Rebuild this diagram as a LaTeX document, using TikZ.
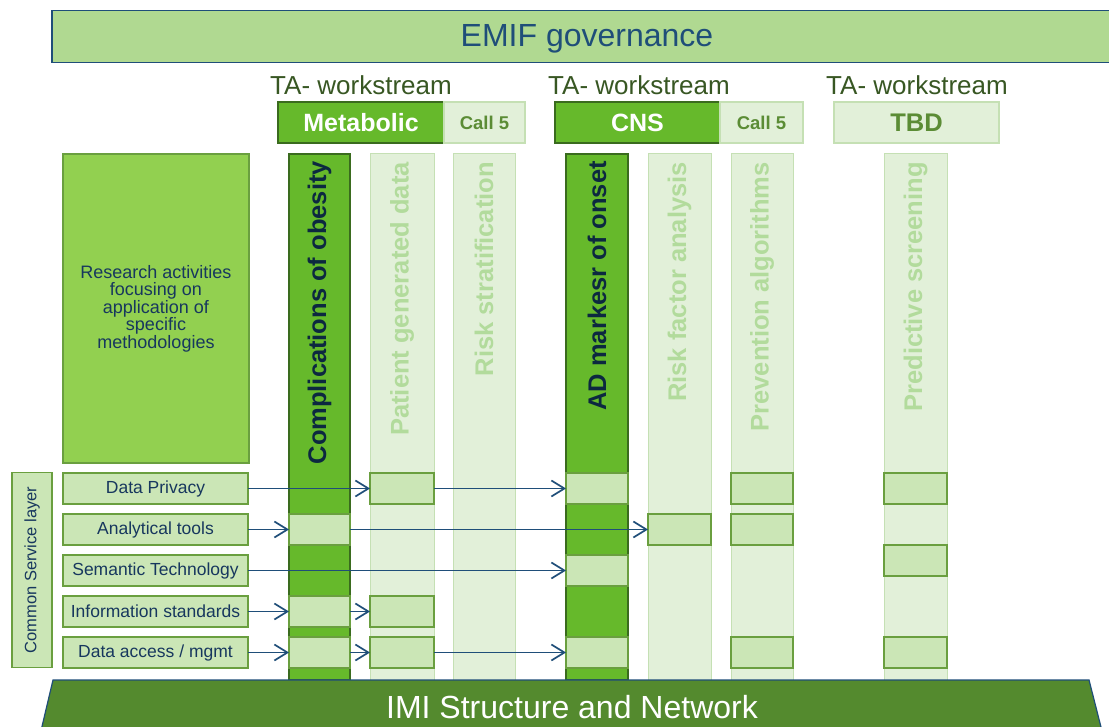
\documentclass[tikz,border=0pt]{standalone}
\usepackage{fontspec}
\setmainfont{Liberation Sans}
\usetikzlibrary{arrows.meta}
\definecolor{emifFill}{HTML}{B0D991}
\definecolor{navy}{HTML}{1F4E79}
\definecolor{taText}{HTML}{385723}
\definecolor{brightGreen}{HTML}{66B92B}
\definecolor{darkBorder}{HTML}{3A6B1E}
\definecolor{paleFill}{HTML}{E2F0D9}
\definecolor{paleBorder}{HTML}{C5E0B4}
\definecolor{callText}{HTML}{5B8C35}
\definecolor{researchFill}{HTML}{92D050}
\definecolor{midBorder}{HTML}{6A9F3F}
\definecolor{cellFill}{HTML}{CBE6B6}
\definecolor{colText}{HTML}{0C2840}
\definecolor{paleText}{HTML}{B2DB9C}
\definecolor{imiFill}{HTML}{548A2E}
\definecolor{rowText}{HTML}{17375E}
\begin{document}
\begin{tikzpicture}[x=1pt,y=-1pt,
  base/.style={rectangle, inner sep=0pt, outer sep=0pt, anchor=north west},
  emifbox/.style={base, fill=emifFill, draw=navy, line width=1.2pt},
  tahead/.style={inner sep=0pt, text=taText, font=\fontsize{26}{28}\selectfont},
  maintab/.style={base, fill=brightGreen, draw=darkBorder, line width=1.2pt, text=white, font=\fontsize{25}{27}\selectfont\bfseries},
  paletab/.style={base, fill=paleFill, draw=paleBorder, line width=1.2pt, text=callText, font=\fontsize{18.5}{20}\selectfont\bfseries},
  researchbox/.style={base, fill=researchFill, draw=midBorder, line width=1.2pt, text=rowText, align=center, font=\fontsize{18}{17.5}\selectfont},
  darkcol/.style={base, fill=brightGreen, draw=darkBorder, line width=1.2pt},
  palecol/.style={base, fill=paleFill, draw=paleBorder, line width=1pt},
  vtext/.style={inner sep=0pt, rotate=90, anchor=east, font=\fontsize{25.5}{27}\selectfont\bfseries},
  rowbox/.style={base, fill=cellFill, draw=midBorder, line width=1.2pt, text=rowText, font=\fontsize{17.5}{19}\selectfont},
  cellbox/.style={base, fill=cellFill, draw=midBorder, line width=1.2pt},
  arr/.style={draw=navy, line width=1.7pt, -{Straight Barb[length=13pt,width=16pt]}}
]
\useasboundingbox (0,0) rectangle (1109,727);
\fill[white] (0,0) rectangle (1109,727);

% governance
\node[emifbox, minimum width=1070pt, minimum height=52pt] (emif) at (52,10.5) {};
\node[text=navy, font=\fontsize{32}{36}\selectfont, inner sep=0pt] (emiftxt) at (587,38.5) {EMIF governance};

% workstream headers
\node[tahead] (ta1) at (361,85) {TA- workstream};
\node[tahead] (ta2) at (639,85) {TA- workstream};
\node[tahead] (ta3) at (917,85) {TA- workstream};

\node[maintab, minimum width=166pt, minimum height=41pt] (meta) at (278,102) {Metabolic};
\node[paletab, minimum width=81pt, minimum height=41pt] (call1) at (444,102) {Call 5};
\node[maintab, minimum width=165pt, minimum height=41pt] (cns) at (555,102) {CNS};
\node[paletab, minimum width=83pt, minimum height=41pt] (call2) at (720,102) {Call 5};
\node[paletab, minimum width=165pt, minimum height=41pt, font=\fontsize{25.5}{27}\selectfont\bfseries] (tbd) at (834,102) {TBD};

% research box
\node[researchbox, minimum width=186pt, minimum height=309pt] (research) at (63,154)
  {Research activities\\focusing on\\application of\\specific\\methodologies};

% columns
\node[darkcol, minimum width=61pt, minimum height=526pt] (c1) at (289,154) {};
\node[palecol, minimum width=64pt, minimum height=526pt] (c2) at (370,154) {};
\node[palecol, minimum width=62pt, minimum height=526pt] (c3) at (453,154) {};
\node[darkcol, minimum width=62pt, minimum height=526pt] (c4) at (566,154) {};
\node[palecol, minimum width=63pt, minimum height=526pt] (c5) at (648,154) {};
\node[palecol, minimum width=62pt, minimum height=526pt] (c6) at (731,154) {};
\node[palecol, minimum width=63pt, minimum height=526pt] (c7) at (884,154) {};

\node[vtext, text=colText] (t1) at (319.5,161) {Complications of obesity};
\node[vtext, text=paleText] (t2) at (402,162) {Patient generated data};
\node[vtext, text=paleText] (t3) at (484,162) {Risk stratification};
\node[vtext, text=colText] (t4) at (597,161) {AD markesr of onset};
\node[vtext, text=paleText] (t5) at (679.5,162) {Risk factor analysis};
\node[vtext, text=paleText] (t6) at (762,162) {Prevention algorithms};
\node[vtext, text=paleText] (t7) at (915.5,162) {Predictive screening};

% common service layer
\node[rowbox, minimum width=40pt, minimum height=195pt] (csl) at (12,472.5) {};
\node[inner sep=0pt, rotate=90, text=rowText, font=\fontsize{16.5}{18}\selectfont] (csltxt) at (32,570) {Common Service layer};

\node[rowbox, minimum width=185pt, minimum height=31pt] (r1) at (63,473) {Data Privacy};
\node[rowbox, minimum width=185pt, minimum height=31pt] (r2) at (63,514) {Analytical tools};
\node[rowbox, minimum width=185pt, minimum height=31pt] (r3) at (63,555) {Semantic Technology};
\node[rowbox, minimum width=185pt, minimum height=31pt] (r4) at (63,596) {Information standards};
\node[rowbox, minimum width=185pt, minimum height=31pt] (r5) at (63,637) {Data access / mgmt};

% cells
\node[cellbox, minimum width=64pt, minimum height=31pt] (c2r1) at (370,473) {};
\node[cellbox, minimum width=62pt, minimum height=31pt] (c4r1) at (566,473) {};
\node[cellbox, minimum width=62pt, minimum height=31pt] (c6r1) at (731,473) {};
\node[cellbox, minimum width=63pt, minimum height=31pt] (c7r1) at (884,473) {};

\node[cellbox, minimum width=61pt, minimum height=31pt] (c1r2) at (289,514) {};
\node[cellbox, minimum width=63pt, minimum height=31pt] (c5r2) at (648,514) {};
\node[cellbox, minimum width=62pt, minimum height=31pt] (c6r2) at (731,514) {};
\node[cellbox, minimum width=63pt, minimum height=31pt] (c7x) at (884,545) {};

\node[cellbox, minimum width=62pt, minimum height=31pt] (c4r3) at (566,555) {};

\node[cellbox, minimum width=61pt, minimum height=31pt] (c1r4) at (289,596) {};
\node[cellbox, minimum width=64pt, minimum height=31pt] (c2r4) at (370,596) {};

\node[cellbox, minimum width=61pt, minimum height=31pt] (c1r5) at (289,637) {};
\node[cellbox, minimum width=64pt, minimum height=31pt] (c2r5) at (370,637) {};
\node[cellbox, minimum width=62pt, minimum height=31pt] (c4r5) at (566,637) {};
\node[cellbox, minimum width=62pt, minimum height=31pt] (c6r5) at (731,637) {};
\node[cellbox, minimum width=63pt, minimum height=31pt] (c7r5) at (884,637) {};

% connectors
\draw[arr] (r1.east) -- (c2r1.west);
\draw[arr] (c2r1.east) -- (c4r1.west);
\draw[arr] (r2.east) -- (c1r2.west);
\draw[arr] (c1r2.east) -- (c5r2.west);
\draw[arr] (r3.east) -- (c4r3.west);
\draw[arr] (r4.east) -- (c1r4.west);
\draw[arr] (c1r4.east) -- (c2r4.west);
\draw[arr] (r5.east) -- (c1r5.west);
\draw[arr] (c1r5.east) -- (c2r5.west);
\draw[arr] (c2r5.east) -- (c4r5.west);

% IMI base
\draw[fill=imiFill, draw=navy, line width=1.2pt] (53,680) -- (1089,680) -- (1103,735) -- (40,735) -- cycle;
\node[text=white, font=\fontsize{32}{36}\selectfont, inner sep=0pt] (imi) at (572,707) {IMI Structure and Network};
\end{tikzpicture}
\end{document}
